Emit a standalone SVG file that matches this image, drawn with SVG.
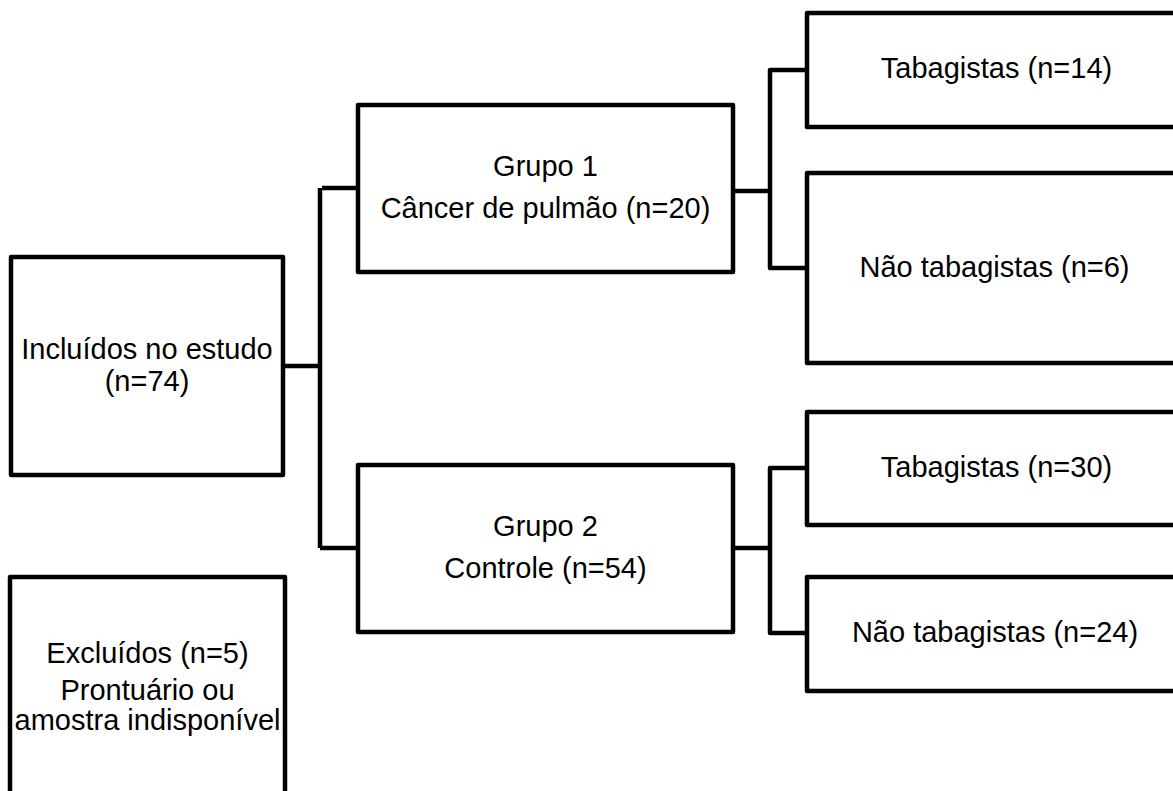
<svg xmlns="http://www.w3.org/2000/svg" width="1173" height="791" viewBox="0 0 1173 791">
<style>
.box{fill:#fff;stroke:#000;stroke-width:4.5;stroke-linejoin:round}
.con{fill:none;stroke:#000;stroke-width:4.5;stroke-linejoin:round}
text{font-family:"Liberation Sans",Arial,sans-serif;font-size:29px;fill:#000;text-anchor:middle}
</style>
<rect width="1173" height="791" fill="#fff"/>
<g id="connectors">
<path class="con" d="M283,366 H320 M322,188 H358 M320,188 V548 M320,548 H358"/>
<path class="con" d="M733,191 H770 M807,70 H770 V268 H807"/>
<path class="con" d="M733,548 H770 M807,468 H770 V633 H807"/>
</g>
<g id="incluidos">
<rect class="box" x="11" y="257" width="272" height="218"/>
<text x="147" y="359">Incluídos no estudo</text>
<text x="147" y="391">(n=74)</text>
</g>
<g id="excluidos">
<rect class="box" x="10" y="577" width="275" height="240"/>
<text x="147.5" y="663">Excluídos (n=5)</text>
<text x="147.5" y="700">Prontuário ou</text>
<text x="147.5" y="730">amostra indisponível</text>
</g>
<g id="grupo1">
<rect class="box" x="358" y="105" width="375" height="167"/>
<text x="545.5" y="176">Grupo 1</text>
<text x="545.5" y="218">Câncer de pulmão (n=20)</text>
</g>
<g id="grupo2">
<rect class="box" x="358" y="465" width="375" height="167"/>
<text x="545.5" y="536">Grupo 2</text>
<text x="545.5" y="578">Controle (n=54)</text>
</g>
<g id="tab14">
<rect class="box" x="807" y="13" width="400" height="114"/>
<text x="996.5" y="78">Tabagistas (n=14)</text>
</g>
<g id="naotab6">
<rect class="box" x="807" y="173" width="400" height="190"/>
<text x="994.5" y="277">Não tabagistas (n=6)</text>
</g>
<g id="tab30">
<rect class="box" x="807" y="412" width="400" height="113"/>
<text x="996.5" y="477">Tabagistas (n=30)</text>
</g>
<g id="naotab24">
<rect class="box" x="807" y="577" width="400" height="114"/>
<text x="995" y="642">Não tabagistas (n=24)</text>
</g>
</svg>
